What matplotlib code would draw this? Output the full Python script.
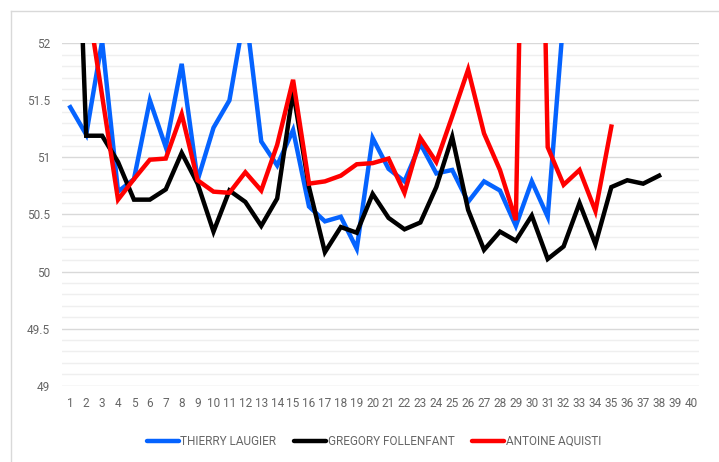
import matplotlib.pyplot as plt
from matplotlib.lines import Line2D
import numpy as np

# data (nan = no value)
nan = np.nan
laps = list(range(1, 41))

thierry = [51.44, 51.20, 52.02, 50.70, 50.81, 51.50, 51.09, 51.82, 50.80, 51.26,
           51.50, 52.30, 51.14, 50.93, 51.24, 50.57, 50.44, 50.48, 50.20, 51.17,
           50.90, 50.79, 51.12, 50.86, 50.89, 50.61, 50.79, 50.71, 50.40, 50.79,
           50.48, 52.24]

gregory = [55.0, 51.19, 51.19, 50.96, 50.63, 50.63, 50.72, 51.04, 50.77, 50.35,
           50.71, 50.61, 50.40, 50.64, 51.58, 50.74, 50.17, 50.39, 50.34, 50.68,
           50.47, 50.37, 50.43, 50.74, 51.18, 50.54, 50.19, 50.35, 50.27, 50.49,
           50.11, 50.22, 50.60, 50.24, 50.74, 50.80, 50.77, 50.84]

antoine = [nan, 52.45, 51.54, 50.63, 50.81, 50.98, 50.99, 51.38, 50.80, 50.70,
           50.69, 50.87, 50.71, 51.11, 51.68, 50.77, 50.79, 50.84, 50.94, 50.95,
           50.99, 50.69, 51.17, 50.96, 51.36, 51.77, 51.21, 50.89, 50.45, 58.0,
           51.09, 50.76, 50.89, 50.53, 51.27]

names = ['THIERRY LAUGIER', 'GREGORY FOLLENFANT', 'ANTOINE AQUISTI']
colors = ['#0563ff', '#000000', '#ff0000']

plt.rcParams['font.family'] = ['Roboto', 'DejaVu Sans']

fig = plt.figure(figsize=(7.19, 4.62), dpi=100)
ax = fig.add_axes([0.0867, 0.1652, 0.972 - 0.0867, 0.9063 - 0.1652])

for series, name, col in zip([thierry, gregory, antoine], names, colors):
    ax.plot(laps[:len(series)], series, color=col, lw=3.2, label=name,
            solid_joinstyle='miter', zorder=3)

# axes and grid
ax.set_xlim(0.5, 40.5)
ax.set_ylim(49, 52)
ax.set_xticks(laps)
ax.set_xticklabels([str(i) for i in laps])
ax.set_yticks(np.arange(49, 52.01, 0.5))
ax.set_yticklabels(['49', '49.5', '50', '50.5', '51', '51.5', '52'])
ax.set_yticks(np.arange(49, 52.01, 0.1), minor=True)
ax.grid(True, which='major', axis='y', color='#d9d9d9', lw=1.0, zorder=0)
ax.grid(True, which='minor', axis='y', color='#efefef', lw=1.0, zorder=0)
ax.tick_params(axis='both', which='both', length=0, colors='#666666', labelsize=8.5)
ax.tick_params(axis='y', pad=9)
ax.tick_params(axis='x', pad=8)
for s in ax.spines.values():
    s.set_visible(False)

# legend
handles = [Line2D([], [], color=c, lw=3.2, solid_capstyle='round') for c in colors]
fig.legend(handles, names, loc='center', bbox_to_anchor=(0.52, 0.045), ncol=3,
           frameon=False, fontsize=8.5, labelcolor='#666666',
           handlelength=2.7, handletextpad=0.15, columnspacing=1.5)

# chart area border (left and top edges are visible in the crop)
fig.add_artist(Line2D([11 / 719, 11 / 719], [0, 1 - 11 / 462], color='#d9d9d9', lw=1))
fig.add_artist(Line2D([11 / 719, 1], [1 - 11 / 462, 1 - 11 / 462], color='#d9d9d9', lw=1))

plt.savefig('out.png', dpi=100)
